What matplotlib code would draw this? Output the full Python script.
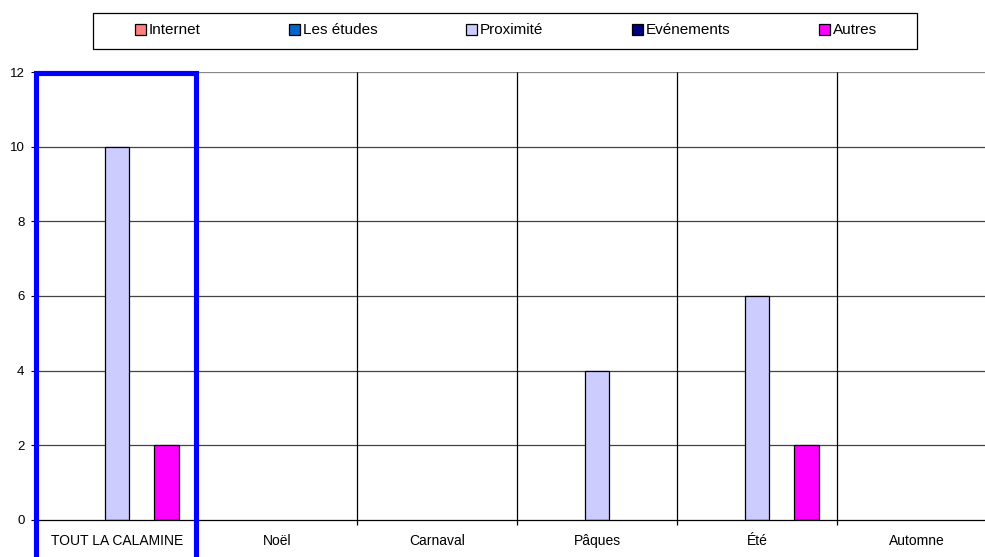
import matplotlib
matplotlib.use("Agg")
import matplotlib.pyplot as plt
from matplotlib.patches import Rectangle
import numpy as np

plt.rcParams['font.family'] = ['Liberation Sans', 'DejaVu Sans']

categories = ["TOUT LA CALAMINE", "Noël", "Carnaval", "Pâques", "Été", "Automne"]
series_names = ["Internet", "Les études", "Proximité", "Evénements", "Autres"]
internet = [0, 0, 0, 0, 0, 0]
etudes = [0, 0, 0, 0, 0, 0]
proximite = [10, 0, 0, 4, 6, 0]
evenements = [0, 0, 0, 0, 0, 0]
autres = [2, 0, 0, 0, 2, 0]
colors = ["#FF8080", "#0066CC", "#CCCCFF", "#000080", "#FF00FF"]
yticks = [0, 2, 4, 6, 8, 10, 12]

values = [internet, etudes, proximite, evenements, autres]

W, H = 985, 557
fig = plt.figure(figsize=(W / 100, H / 100), dpi=100)
ax = fig.add_axes([37 / W, (H - 520) / H, 960 / W, 448 / H])

x = np.arange(len(categories)) + 0.5
bw = 0.155
handles = []
for k, (name, vals, col) in enumerate(zip(series_names, values, colors)):
    heights = np.array(vals, dtype=float)
    mask = heights > 0
    ax.bar(x[mask] + (k - 2) * bw, heights[mask], width=bw, color=col,
           edgecolor='black', linewidth=0.9, zorder=3)
    handles.append(Rectangle((0, 0), 1, 1, facecolor=col, edgecolor='black', linewidth=0.9))

ax.set_xlim(0, len(categories))
ax.set_ylim(0, 12)
ax.set_yticks(yticks)
ax.set_yticklabels([str(v) for v in yticks], fontsize=9.5)
ax.set_xticks(x)
ax.set_xticklabels(categories, fontsize=10)
ax.tick_params(axis='x', length=0, pad=10)
ax.tick_params(axis='y', length=4, width=0.8, pad=5)

for yv in yticks[1:]:
    ax.axhline(yv, color='#444444' if yv < 12 else '#888888', linewidth=0.9, zorder=1)
ax.vlines(np.arange(1, len(categories) + 1), -0.14, 12, colors='black',
          linewidth=0.9, zorder=2, clip_on=False)

for s in ['top', 'right', 'left']:
    ax.spines[s].set_visible(False)
ax.spines['bottom'].set_linewidth(0.9)
ax.spines['bottom'].set_zorder(4)

# Highlight rectangle around first category
px_to_x = len(categories) / 960
px_to_y = 12 / 448
rect = Rectangle(((35.5 - 37) * px_to_x, -2.0), (196 - 35.5) * px_to_x, 2.0 + (520 - 72.5) * px_to_y,
                 fill=False, edgecolor='#0000FF', linewidth=3.7, clip_on=False, zorder=6)
ax.add_patch(rect)

# Legend frame and legend
fig.add_artist(Rectangle((93 / W, 1 - 49 / H), 824 / W, 36 / H, transform=fig.transFigure,
                         fill=False, edgecolor='black', linewidth=0.9))
fig.legend(handles, series_names, loc='center', mode='expand', ncol=5, frameon=False,
           bbox_to_anchor=(135 / W, 1 - 30.5 / H - 0.01, (877 - 135) / W, 0.02),
           borderpad=0, borderaxespad=0, handlelength=0.72, handleheight=0.72,
           handletextpad=0.2, fontsize=11)

fig.savefig("out.png", dpi=100)
